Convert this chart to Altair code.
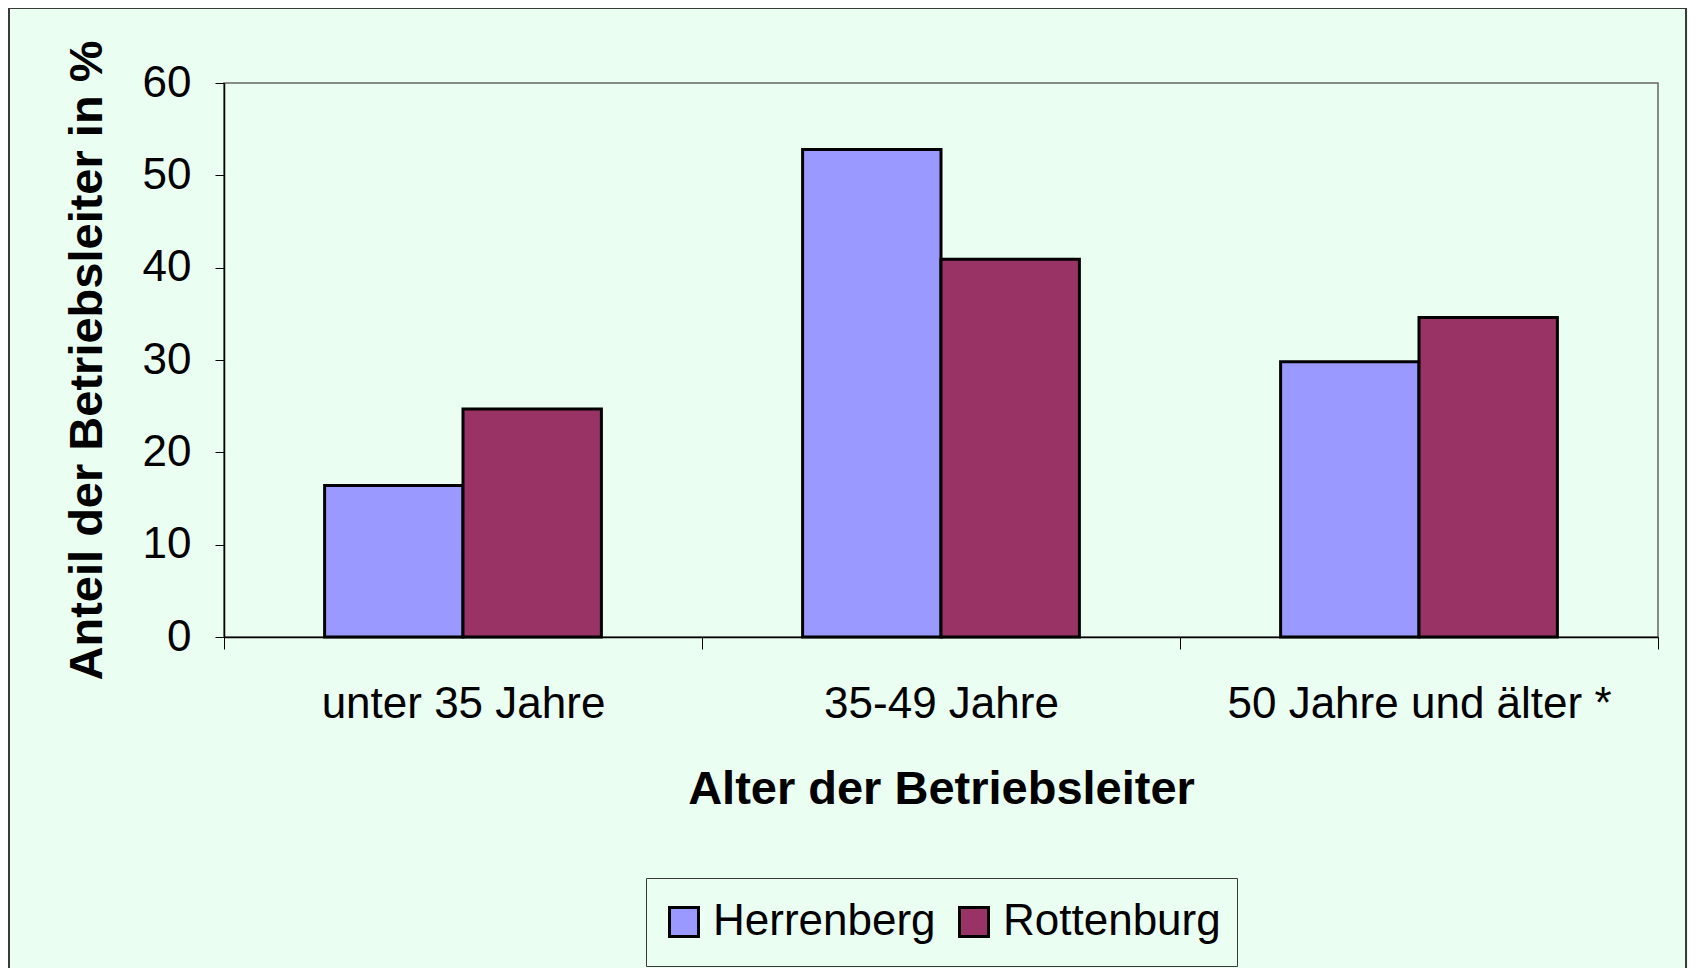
import altair as alt
import pandas as pd

categories = ["unter 35 Jahre", "35-49 Jahre", "50 Jahre und älter *"]
series = ["Herrenberg", "Rottenburg"]
herrenberg = [16.4, 52.8, 29.8]
rottenburg = [24.7, 40.9, 34.6]
y_ticks = [0, 10, 20, 30, 40, 50, 60]
colors = ["#9999FF", "#993366"]

rows = []
for i, c in enumerate(categories):
    rows.append({"Alter": c, "Ort": series[0], "Anteil": herrenberg[i]})
    rows.append({"Alter": c, "Ort": series[1], "Anteil": rottenburg[i]})
df = pd.DataFrame(rows)

FONT = "Liberation Sans"
BG = "#EAFEF2"

frame = alt.Chart(pd.DataFrame({"k": [0]})).mark_rect(
    filled=False, stroke="#3a3a3a", strokeWidth=2
).encode(
    x=alt.value(-215), x2=alt.value(1462), y=alt.value(-75), y2=alt.value(900)
)

bars = alt.Chart(df).mark_bar(stroke="black", strokeWidth=3).encode(
    x=alt.X(
        "Alter:N",
        sort=categories,
        scale=alt.Scale(paddingInner=0, paddingOuter=0),
        axis=alt.Axis(
            title="Alter der Betriebsleiter",
            labelAngle=0,
            tickBand="extent",
            tickSize=12,
            tickColor="black",
            domainColor="black",
            domainWidth=1.5,
            labelFontSize=44,
            labelPadding=33,
            labelColor="black",
            labelLimit=600,
            titleFontSize=47,
            titleFontWeight="bold",
            titleColor="black",
            titlePadding=40,
            grid=False,
        ),
    ),
    xOffset=alt.XOffset(
        "Ort:N", sort=series, scale=alt.Scale(paddingInner=0, paddingOuter=0.727)
    ),
    y=alt.Y(
        "Anteil:Q",
        scale=alt.Scale(domain=[0, 60], nice=False),
        axis=alt.Axis(
            values=y_ticks,
            title="Anteil der Betriebsleiter in %",
            tickSize=9,
            tickColor="black",
            domainColor="black",
            domainWidth=1.5,
            labelFontSize=44,
            labelPadding=24,
            labelColor="black",
            titleFontSize=47,
            titleFontWeight="bold",
            titleColor="black",
            titlePadding=31,
            grid=False,
        ),
    ),
    color=alt.Color(
        "Ort:N",
        sort=series,
        scale=alt.Scale(domain=series, range=colors),
        legend=alt.Legend(
            title=None,
            orient="none",
            legendX=422,
            legendY=795,
            direction="horizontal",
            padding=16,
            strokeColor="#3a3a3a",
            fillColor=BG,
            symbolType="square",
            symbolSize=841,
            symbolStrokeColor="black",
            symbolStrokeWidth=3,
            symbolOpacity=1,
            labelFontSize=44,
            labelColor="black",
            labelOffset=7,
            labelLimit=400,
            columnPadding=16,
            clipHeight=56,
        ),
    ),
)

chart = alt.layer(frame, bars).properties(
    width=1434,
    height=554,
    autosize=alt.AutoSizeParams(type="none"),
    padding={"left": 216, "top": 75, "right": 30, "bottom": 331},
    background=BG,
).configure(font=FONT).configure_view(stroke="#666666", strokeWidth=1.5)

chart.save("out.html", embed_options={"renderer": "svg", "actions": False})
